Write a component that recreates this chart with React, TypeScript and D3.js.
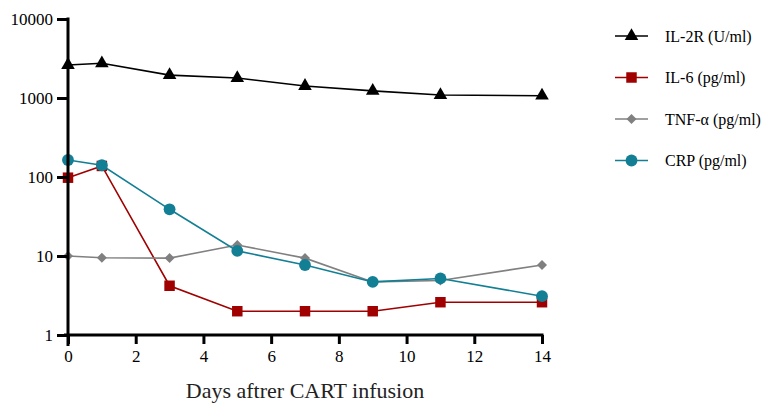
import React, { useRef, useEffect } from 'react';
import * as d3 from 'd3';

const days = [0, 1, 3, 5, 7, 9, 11, 14];
const il2r = [2620, 2750, 1950, 1790, 1420, 1230, 1090, 1070];
const il6 = [98, 138, 4.2, 2.0, 2.0, 2.0, 2.6, 2.6];
const tnf = [10, 9.5, 9.4, 13.8, 9.4, 4.7, 4.9, 7.7];
const crp = [164, 141, 39, 11.6, 7.7, 4.7, 5.2, 3.1];
const xTicks = [0, 2, 4, 6, 8, 10, 12, 14];
const yTicks = [1, 10, 100, 1000, 10000];

const series = [
  { name: 'IL-2R (U/ml)', values: il2r, color: '#000000', symbol: d3.symbolTriangle, size: 80, rot: 0 },
  { name: 'IL-6 (pg/ml)', values: il6, color: '#a00000', symbol: d3.symbolSquare, size: 110, rot: 0 },
  { name: 'TNF-\u03b1 (pg/ml)', values: tnf, color: '#808080', symbol: d3.symbolSquare, size: 50, rot: 45 },
  { name: 'CRP (pg/ml)', values: crp, color: '#127f95', symbol: d3.symbolCircle, size: 110, rot: 0 },
];

const App = () => {
  const ref = useRef<SVGSVGElement>(null);

  useEffect(() => {
    const width = 769;
    const height = 403;
    const margin = { top: 19, left: 68, right: 227, bottom: 68 };

    const svg = d3.select(ref.current);
    svg.selectAll('*').remove();

    const x = d3.scaleLinear().domain([0, 14]).range([margin.left, width - margin.right]);
    const y = d3.scaleLog().domain([1, 10000]).range([height - margin.bottom, margin.top]);

    const font = '"Liberation Serif", "Times New Roman", serif';

    // lines and markers
    const line = d3.line<number>()
      .x((d, i) => x(days[i]))
      .y(d => y(d));

    series.forEach(s => {
      svg.append('path')
        .datum(s.values)
        .attr('d', line)
        .attr('fill', 'none')
        .attr('stroke', s.color)
        .attr('stroke-width', 1.6);

      svg.selectAll(null)
        .data(s.values)
        .join('path')
        .attr('transform', (d, i) => `translate(${x(days[i])},${y(d)}) rotate(${s.rot})`)
        .attr('d', d3.symbol().type(s.symbol).size(s.size)())
        .attr('fill', s.color);
    });

    // x axis
    const gx = svg.append('g')
      .attr('transform', `translate(0,${y(1)})`)
      .call(d3.axisBottom(x).tickValues(xTicks).tickSize(9).tickPadding(6).tickSizeOuter(0))
      .attr('font-family', font);
    gx.select('.domain').attr('stroke-width', 3).attr('d', `M${x(0) - 4},0H${x(14) + 1.5}`);
    gx.selectAll('.tick line').attr('stroke-width', 3);
    gx.selectAll('.tick text').style('font-family', font).style('font-size', '17px').attr('fill', '#000');

    // y axis
    const gy = svg.append('g')
      .attr('transform', `translate(${x(0)},0)`)
      .call(d3.axisLeft(y).tickValues(yTicks).tickFormat(d3.format('d')).tickSize(11).tickPadding(4).tickSizeOuter(0))
      .attr('font-family', font);
    gy.select('.domain').attr('stroke-width', 3).attr('d', `M0,${y(10000) - 1.5}V${y(1) + 11}`);
    gy.selectAll('.tick line').attr('stroke-width', 3);
    gy.selectAll('.tick text').style('font-family', font).style('font-size', '17px').attr('fill', '#000');

    // x axis title
    svg.append('text')
      .attr('x', 305)
      .attr('y', 398)
      .attr('text-anchor', 'middle')
      .style('font-family', font)
      .style('font-size', '22px')
      .attr('fill', '#222')
      .text('Days aftrer CART infusion');

    // legend
    const legend = svg.append('g').attr('transform', 'translate(615,36)');
    series.forEach((s, i) => {
      const g = legend.append('g').attr('transform', `translate(0,${i * 41.5})`);
      g.append('line').attr('x1', 0).attr('x2', 33).attr('stroke', s.color).attr('stroke-width', 1.6);
      g.append('path')
        .attr('transform', `translate(16.5,0) rotate(${s.rot})`)
        .attr('d', d3.symbol().type(s.symbol).size(s.size)())
        .attr('fill', s.color);
      g.append('text')
        .attr('x', 50)
        .attr('dy', '0.35em')
        .style('font-family', font)
        .style('font-size', '16px')
        .text(s.name);
    });
  }, []);

  return <svg ref={ref} width={769} height={403} style={{ position: 'absolute', left: 0, top: 0 }}></svg>;
};

export default App;
